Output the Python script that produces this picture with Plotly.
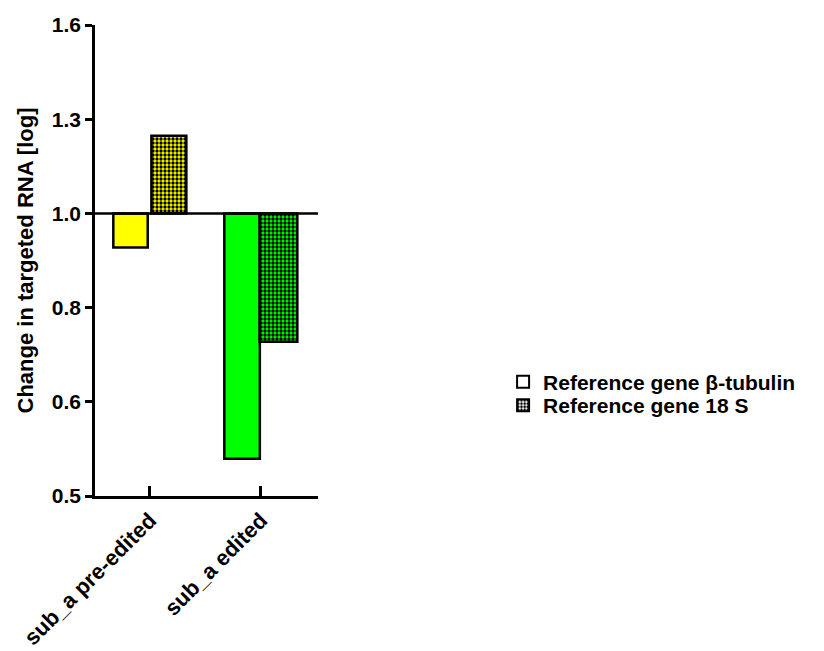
import plotly.graph_objects as go

# Fold change of targeted RNA normalised to two reference genes (log2-spaced axis)
categories = ["sub_a pre-edited", "sub_a edited"]
beta_tubulin = [0.920, 0.548]
ref_18s = [1.210, 0.730]
bar_colors = ["#FFFF00", "#00FF00"]

series_names = ["Reference gene \u03b2-tubulin", "Reference gene 18 S"]

tick_vals = [2 ** (k / 3) for k in range(-3, 3)]
tick_text = ["0.5", "0.6", "0.8", "1.0", "1.3", "1.6"]

BASE = 1.0
FONT = "Liberation Sans, Arial, sans-serif"

# bar placement within each category group: (offset, width)
beta_slots = [(-0.33, 0.31), (-0.33, 0.32)]
s18_slots = [(0.013, 0.315), (-0.012, 0.34)]


def checker(bg):
    """Black dotted fill on a coloured background."""
    return dict(shape=".", fgcolor="black", bgcolor=bg, size=4,
                solidity=0.55, fgopacity=1, fillmode="replace")


fig = go.Figure()

# Bars grow up/down from 1.0, one trace per category so each keeps its colour
for i, cat in enumerate(categories):
    fig.add_trace(go.Bar(
        x=[cat], y=[beta_tubulin[i] - BASE], base=BASE,
        offset=beta_slots[i][0], width=beta_slots[i][1],
        marker=dict(color=bar_colors[i], line=dict(color="black", width=2.5)),
        showlegend=False,
    ))
    fig.add_trace(go.Bar(
        x=[cat], y=[ref_18s[i] - BASE], base=BASE,
        offset=s18_slots[i][0], width=s18_slots[i][1],
        marker=dict(color=bar_colors[i], line=dict(color="black", width=2.5),
                    pattern=checker(bar_colors[i])),
        showlegend=False,
    ))

# Legend entries (white keys)
fig.add_trace(go.Bar(
    x=[None], y=[None], name=series_names[0],
    marker=dict(color="white", line=dict(color="black", width=2)),
    legend="legend",
))
fig.add_trace(go.Bar(
    x=[None], y=[None], name=series_names[1],
    marker=dict(color="white", line=dict(color="black", width=2),
                pattern=checker("white")),
    legend="legend2",
))

# Reference line at 1.0
fig.add_shape(type="line", xref="paper", x0=0, x1=1, yref="y", y0=1, y1=1,
              line=dict(color="black", width=2.5))

legend_style = dict(font=dict(family=FONT, size=21, color="black", weight="bold"),
                    bgcolor="rgba(0,0,0,0)", xanchor="left", yanchor="middle",
                    itemwidth=30)

fig.update_layout(
    width=824, height=651,
    margin=dict(l=95, r=506, t=25, b=155, autoexpand=False),
    paper_bgcolor="white", plot_bgcolor="white",
    barmode="overlay",
    font=dict(family=FONT, color="black"),
    legend=dict(x=1.83, y=0.242, **legend_style),
    legend2=dict(x=1.83, y=0.192, **legend_style),
    xaxis=dict(
        type="category",
        range=[-0.495, 1.514],
        automargin=False,
        showline=True, linecolor="black", linewidth=2.5,
        ticks="inside", ticklen=10, tickwidth=2.5, tickcolor="black",
        tickangle=-45,
        tickfont=dict(family=FONT, size=22, color="black", weight="bold"),
        showgrid=False, zeroline=False,
    ),
    yaxis=dict(
        type="log",
        range=[-0.30103, 0.2006866],
        automargin=False,
        tickvals=tick_vals, ticktext=tick_text,
        showline=True, linecolor="black", linewidth=2.5,
        ticks="outside", ticklen=7, tickwidth=2.5, tickcolor="black",
        tickfont=dict(family=FONT, size=21, color="black", weight="bold"),
        showgrid=False, zeroline=False,
        title=dict(text="Change in targeted RNA [log]", standoff=13,
                   font=dict(family=FONT, size=22, color="black", weight="bold")),
    ),
)

fig.write_html("out.html")
